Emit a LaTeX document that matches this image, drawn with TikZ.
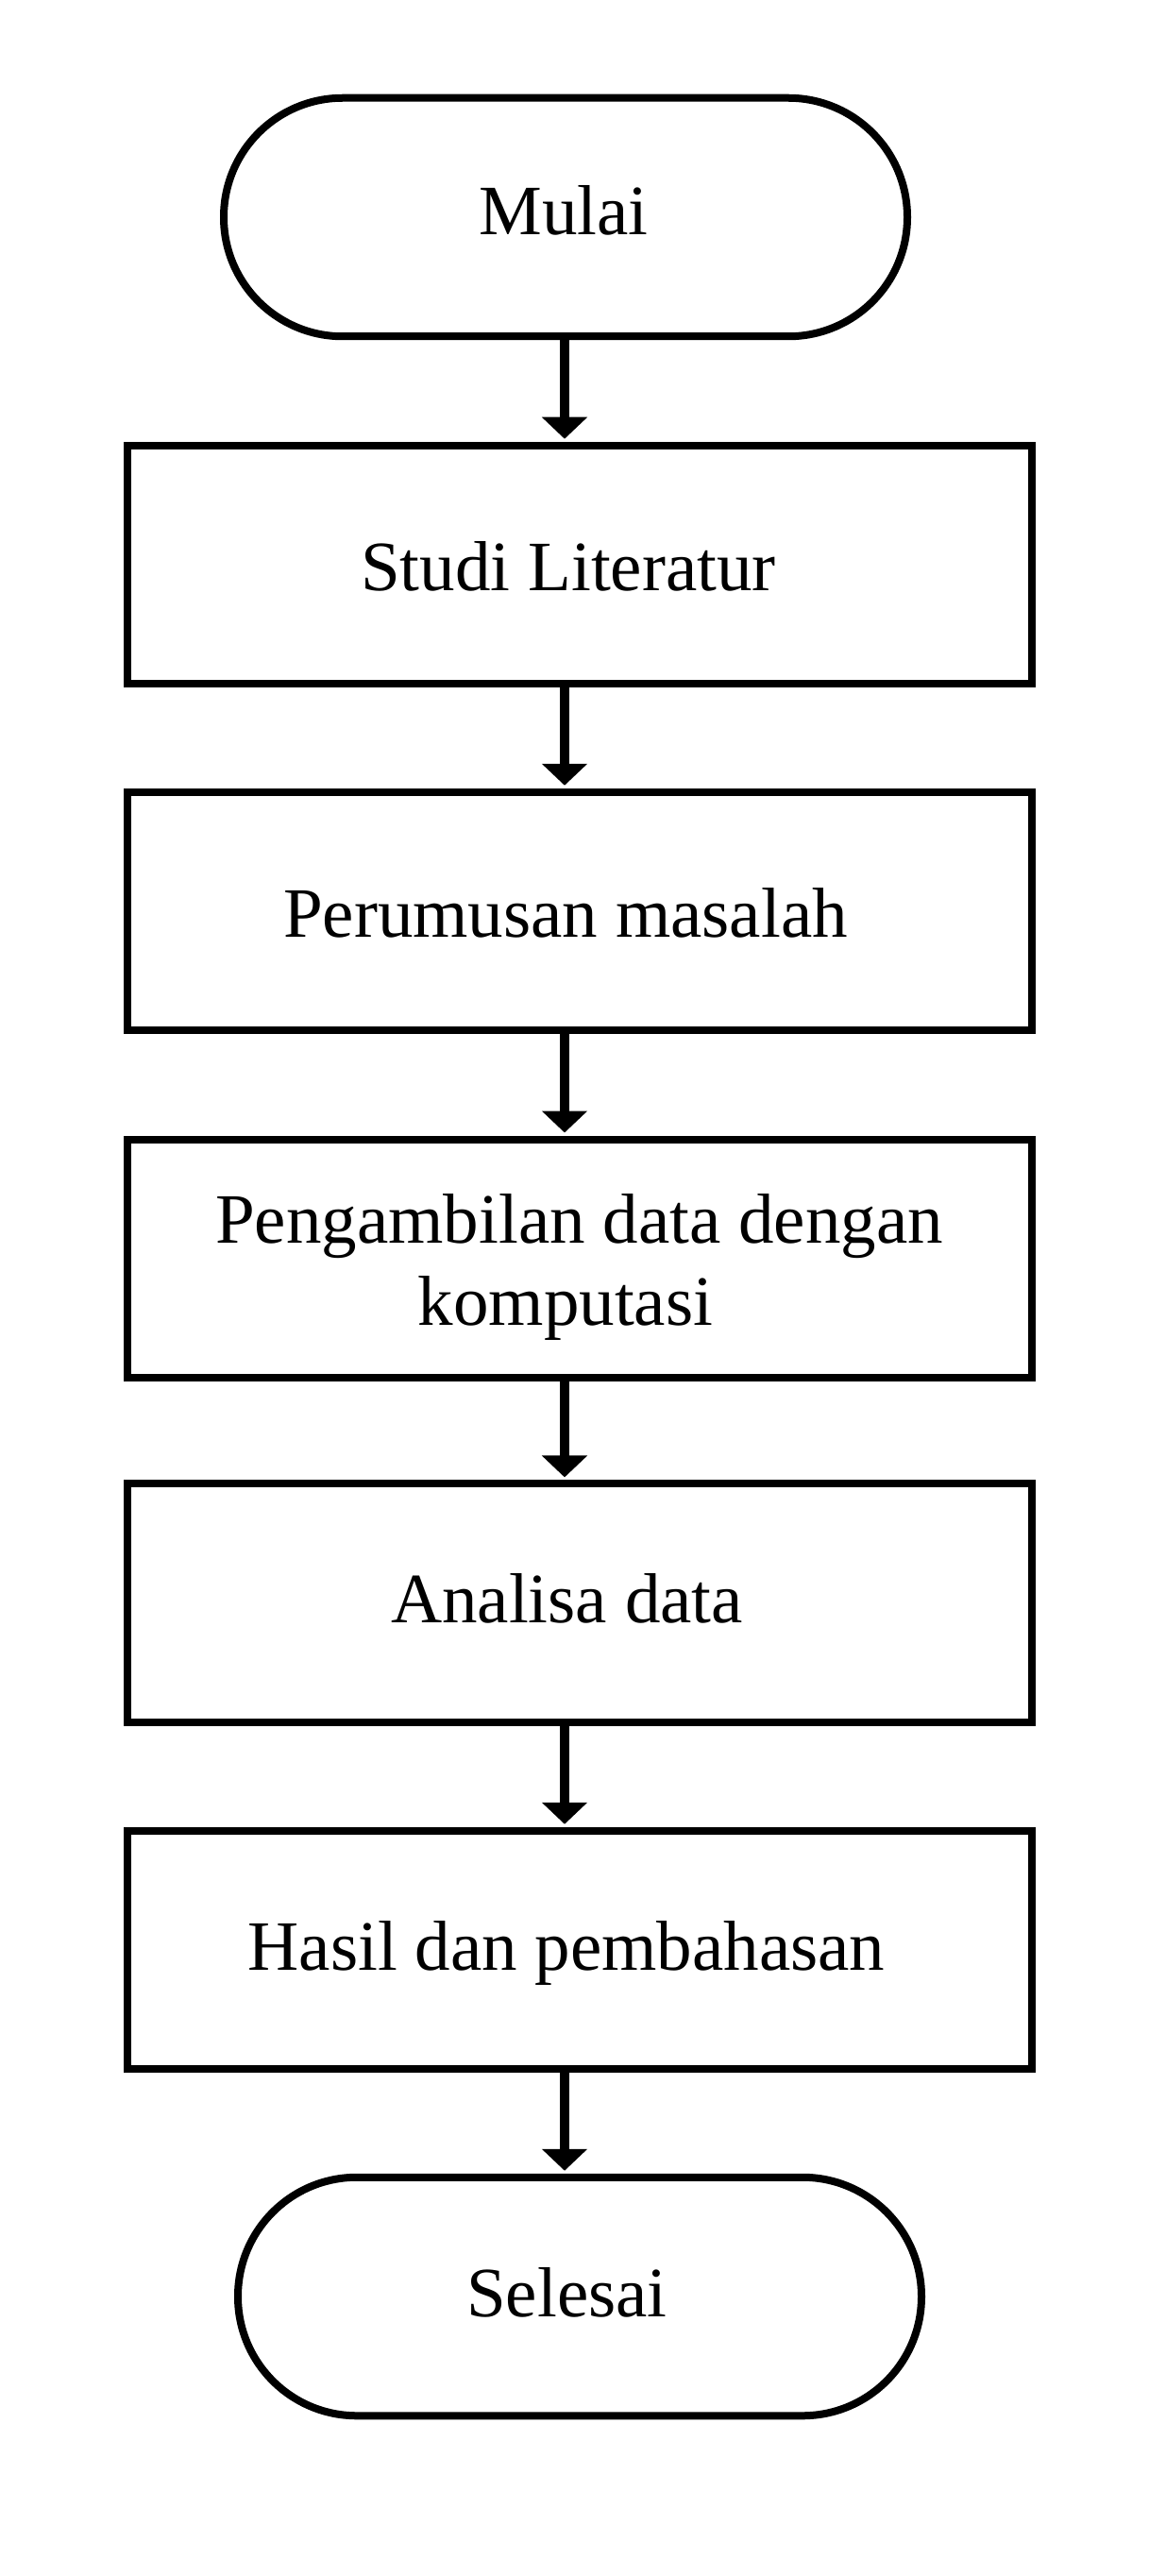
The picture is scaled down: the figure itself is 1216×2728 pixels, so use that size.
\documentclass[tikz,border=0pt]{standalone}
\usepackage{fontspec}
\setmainfont{Liberation Serif}
\usetikzlibrary{arrows.meta}
\begin{document}
\begin{tikzpicture}[x=0.5pt,y=-0.5pt,
  every node/.style={inner sep=0pt},
  terminal/.style={draw, line width=4pt, rectangle, rounded corners=63pt,
                   minimum width=362pt, minimum height=126.25pt},
  procbox/.style={draw, line width=4pt, rectangle,
                  minimum width=479pt, minimum height=126.25pt},
  txt/.style={anchor=base, font=\fontsize{37.5pt}{43.5pt}\selectfont, align=center},
  flow/.style={line width=4.75pt, -{Triangle[width=23.5pt,length=11.5pt]}, shorten >=1.5pt}
]
\fill[white] (0,0) rectangle (1216,2728);
\useasboundingbox (0,0) rectangle (1216,2728);
\coordinate (ax) at (598,0);

\node[terminal] (m) at (599,230) {};
\node[txt] (tm) at (597,249) {Mulai};

\node[procbox] (b1) at (614,598) {};
\node[txt] (t1) at (602,625) {Studi Literatur};

\node[procbox] (b2) at (614,965) {};
\node[txt] (t2) at (599,992.5) {Perumusan masalah};

\node[procbox] (b3) at (614,1332.75) {};
\node[txt] (t3) at (613.5,1403) {Pengambilan data dengan\\komputasi\kern14.5pt};

\node[procbox] (b4) at (614,1697.7) {};
\node[txt] (t4) at (600.5,1718) {Analisa data};

\node[procbox] (b5) at (614,2065) {};
\node[txt] (t5) at (600,2086) {Hasil dan pembahasan};

\node[terminal] (s) at (614,2432) {};
\node[txt] (ts) at (600.5,2453.5) {Selesai};

\draw[flow] (m.south -| ax) -- (b1.north -| ax);
\draw[flow] (b1.south -| ax) -- (b2.north -| ax);
\draw[flow] (b2.south -| ax) -- (b3.north -| ax);
\draw[flow] (b3.south -| ax) -- (b4.north -| ax);
\draw[flow] (b4.south -| ax) -- (b5.north -| ax);
\draw[flow] (b5.south -| ax) -- (s.north -| ax);
\end{tikzpicture}
\end{document}
